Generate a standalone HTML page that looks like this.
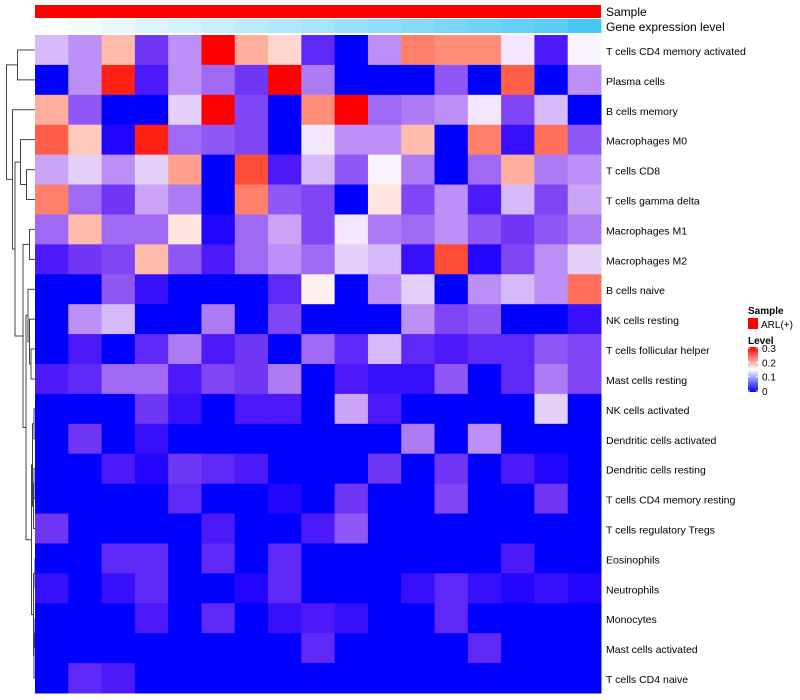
<!DOCTYPE html>
<html><head><meta charset="utf-8"><style>
body{margin:0;background:#fff;font-family:"Liberation Sans",sans-serif}
svg{display:block}
</style></head><body>
<svg id="chart" width="800" height="700" xmlns="http://www.w3.org/2000/svg">
<g id="dend"></g>
<g id="annot"></g>
<g id="cells"></g>
<g id="labels"></g>
<g id="legend">
  <text x="748" y="314" font-size="10" font-weight="bold">Sample</text>
  <rect x="748" y="318" width="10" height="11" fill="#ff0000"/>
  <text x="761" y="328" font-size="10">ARL(+)</text>
  <text x="748" y="344" font-size="10" font-weight="bold">Level</text>
  <defs><linearGradient id="lg" x1="0" y1="0" x2="0" y2="1">
    <stop offset="0" stop-color="#ff0000"/><stop offset="0.5" stop-color="#ffffff"/><stop offset="1" stop-color="#0000ff"/></linearGradient></defs>
  <rect x="748" y="347" width="10" height="45" fill="url(#lg)"/>
  <g id="legticks"></g>
</g>
</svg>
<script>
const rowNames=["T cells CD4 memory activated","Plasma cells","B cells memory","Macrophages M0","T cells CD8","T cells gamma delta","Macrophages M1","Macrophages M2","B cells naive","NK cells resting","T cells follicular helper","Mast cells resting","NK cells activated","Dendritic cells activated","Dendritic cells resting","T cells CD4 memory resting","T cells regulatory  Tregs","Eosinophils","Neutrophils","Monocytes","Mast cells activated","T cells CD4 naive"];
const values=[
[0.12,0.10,0.20,0.05,0.10,0.30,0.21,0.18,0.04,0,0.10,0.24,0.23,0.23,0.14,0.03,0.145],
[0,0.10,0.29,0.03,0.10,0.08,0.05,0.30,0.09,0,0,0,0.07,0,0.26,0,0.10],
[0.21,0.07,0,0,0.13,0.30,0.06,0,0.23,0.30,0.08,0.09,0.10,0.14,0.06,0.12,0],
[0.26,0.19,0.01,0.29,0.08,0.07,0.06,0,0.14,0.10,0.10,0.20,0,0.24,0.02,0.25,0.07],
[0.11,0.13,0.10,0.13,0.22,0,0.27,0.03,0.12,0.07,0.145,0.09,0,0.08,0.21,0.09,0.10],
[0.24,0.08,0.05,0.11,0.09,0,0.24,0.07,0.06,0,0.17,0.06,0.10,0.03,0.12,0.06,0.11],
[0.08,0.20,0.08,0.08,0.17,0.01,0.08,0.11,0.06,0.14,0.09,0.08,0.10,0.07,0.05,0.07,0.09],
[0.03,0.05,0.06,0.20,0.07,0.03,0.08,0.10,0.08,0.13,0.12,0.02,0.27,0.01,0.06,0.10,0.13],
[0,0,0.07,0.02,0,0,0,0.04,0.16,0,0.10,0.13,0,0.10,0.12,0.10,0.25],
[0,0.10,0.12,0,0,0.09,0,0.06,0,0,0,0.10,0.06,0.07,0,0,0.02],
[0,0.03,0,0.04,0.09,0.03,0.05,0,0.08,0.04,0.12,0.04,0.03,0.04,0.04,0.07,0.06],
[0.03,0.04,0.08,0.08,0.03,0.06,0.05,0.09,0,0.03,0.02,0.02,0.07,0,0.04,0.09,0.06],
[0,0,0,0.05,0.02,0,0.03,0.03,0,0.11,0.03,0,0,0,0,0.13,0],
[0,0.05,0,0.02,0,0,0,0,0,0,0,0.09,0,0.10,0,0,0],
[0,0,0.03,0.01,0.05,0.04,0.03,0,0,0,0.05,0,0.05,0,0.03,0.01,0],
[0,0,0,0,0.04,0,0,0.01,0,0.05,0,0,0.06,0,0,0.05,0],
[0.05,0,0,0,0,0.03,0,0,0.03,0.07,0,0,0,0,0,0,0],
[0,0,0.04,0.04,0,0.04,0,0.04,0,0,0,0,0,0,0.03,0,0],
[0.02,0,0.02,0.04,0,0,0.01,0.04,0,0,0,0.02,0.04,0.02,0.01,0.02,0.01],
[0,0,0,0.03,0,0.04,0,0.02,0.03,0.02,0,0,0.04,0,0,0,0],
[0,0,0,0,0,0,0,0,0.04,0,0,0,0,0.04,0,0,0],
[0,0.04,0.03,0,0,0,0,0,0,0,0,0,0,0,0,0,0]];
const geneLevel=[0,0.06,0.12,0.18,0.24,0.3,0.36,0.42,0.48,0.54,0.6,0.66,0.72,0.78,0.84,0.9,1];
const legendTicks=[0,0.1,0.2,0.3];
const NS="http://www.w3.org/2000/svg";
const X0=35,X1=601,Y0=35,Y1=693;
const nc=values[0].length,nr=values.length;
const cw=(X1-X0)/nc,rh=(Y1-Y0)/nr;
const xs=j=>X0+j*cw, ys=i=>Y0+i*rh;
function col(v){
  v=Math.max(0,Math.min(0.3,v));
  let r,g,b;
  if(v<=0.15){const t=v/0.15;r=255*Math.pow(t,0.75);g=255*Math.pow(t,1.4);b=255-10*Math.sin(Math.PI*t);}
  else{const t=(v-0.15)/0.15;r=255;g=255*Math.pow(1-t,0.75);b=255*Math.pow(1-t,0.95);}
  return `rgb(${r|0},${g|0},${b|0})`;
}
function mk(tag,attrs,parent){const e=document.createElementNS(NS,tag);for(const k in attrs)e.setAttribute(k,attrs[k]);parent.appendChild(e);return e;}
const cells=document.getElementById('cells');
values.forEach((row,i)=>row.forEach((v,j)=>{
  const r=mk('rect',{x:xs(j),y:ys(i),width:cw+0.5,height:rh+0.5,fill:col(v)},cells);
  
  
}));
const labels=document.getElementById('labels');
rowNames.forEach((n,i)=>{
  const t=mk('text',{x:606,y:ys(i)+rh/2+5,'font-size':10.5,fill:'#000'},labels);
  t.textContent=n;
  
  
});
const annot=document.getElementById('annot');
const sb=mk('rect',{x:X0,y:5,width:X1-X0,height:13,fill:'#ff0000'},annot);


geneLevel.forEach((g,j)=>{
  const r=Math.round(255+(72-255)*g),gg=Math.round(255+(200-255)*g),b=Math.round(255+(246-255)*g);
  const c=mk('rect',{x:xs(j),y:19,width:cw+0.5,height:14,fill:`rgb(${r},${gg},${b})`},annot);
  
  
});
let t1=mk('text',{x:606,y:16,'font-size':12},annot);t1.textContent='Sample';


let t2=mk('text',{x:606,y:31,'font-size':12},annot);t2.textContent='Gene expression level';


const lt=document.getElementById('legticks');
legendTicks.forEach(v=>{
  const y=391-(v/0.3)*43;
  mk('line',{x1:748,x2:750,y1:y,y2:y,stroke:'#fff'},lt);
  mk('line',{x1:756,x2:758,y1:y,y2:y,stroke:'#fff'},lt);
  const t=mk('text',{x:762,y:y+4,'font-size':10},lt);t.textContent=String(v);
  
  
});
const dend=document.getElementById('dend');
const cy=i=>ys(i)+rh/2;
function leaf(i){return {y:cy(i),x:X0};}
function merge(a,b,x){
  const p=mk('path',{d:`M${a.x},${a.y}H${x}V${b.y}H${b.x}`,fill:'none',stroke:'#444','stroke-width':1},dend);
  
  
  return {x:x,y:(a.y+b.y)/2};
}
const A=merge(leaf(0),leaf(1),17.5);
const B=merge(leaf(4),leaf(5),26.5);
const C=merge(leaf(3),B,20.5);
const D=merge(leaf(6),leaf(7),29.5);
const u1=merge(leaf(10),leaf(11),31);
const u2=merge(leaf(9),u1,29.5);
const u3=merge(leaf(8),u2,28);
const l1=merge(leaf(12),leaf(13),34);
const l2=merge(leaf(14),leaf(15),34);
const l3=merge(leaf(16),l2,33.5);
const l4=merge(l1,l3,32.5);
const l5=merge(leaf(17),leaf(18),35);
const l6=merge(leaf(19),leaf(20),35);
const l7=merge(l6,leaf(21),34);
const l8=merge(l5,l7,33.5);
const L=merge(l4,l8,31.5);
const E=merge(u3,L,26);
const F=merge(D,E,23);
const G=merge(C,F,15);
const H=merge(leaf(2),G,12.5);
merge(A,H,6.5);
</script>
</body></html>
